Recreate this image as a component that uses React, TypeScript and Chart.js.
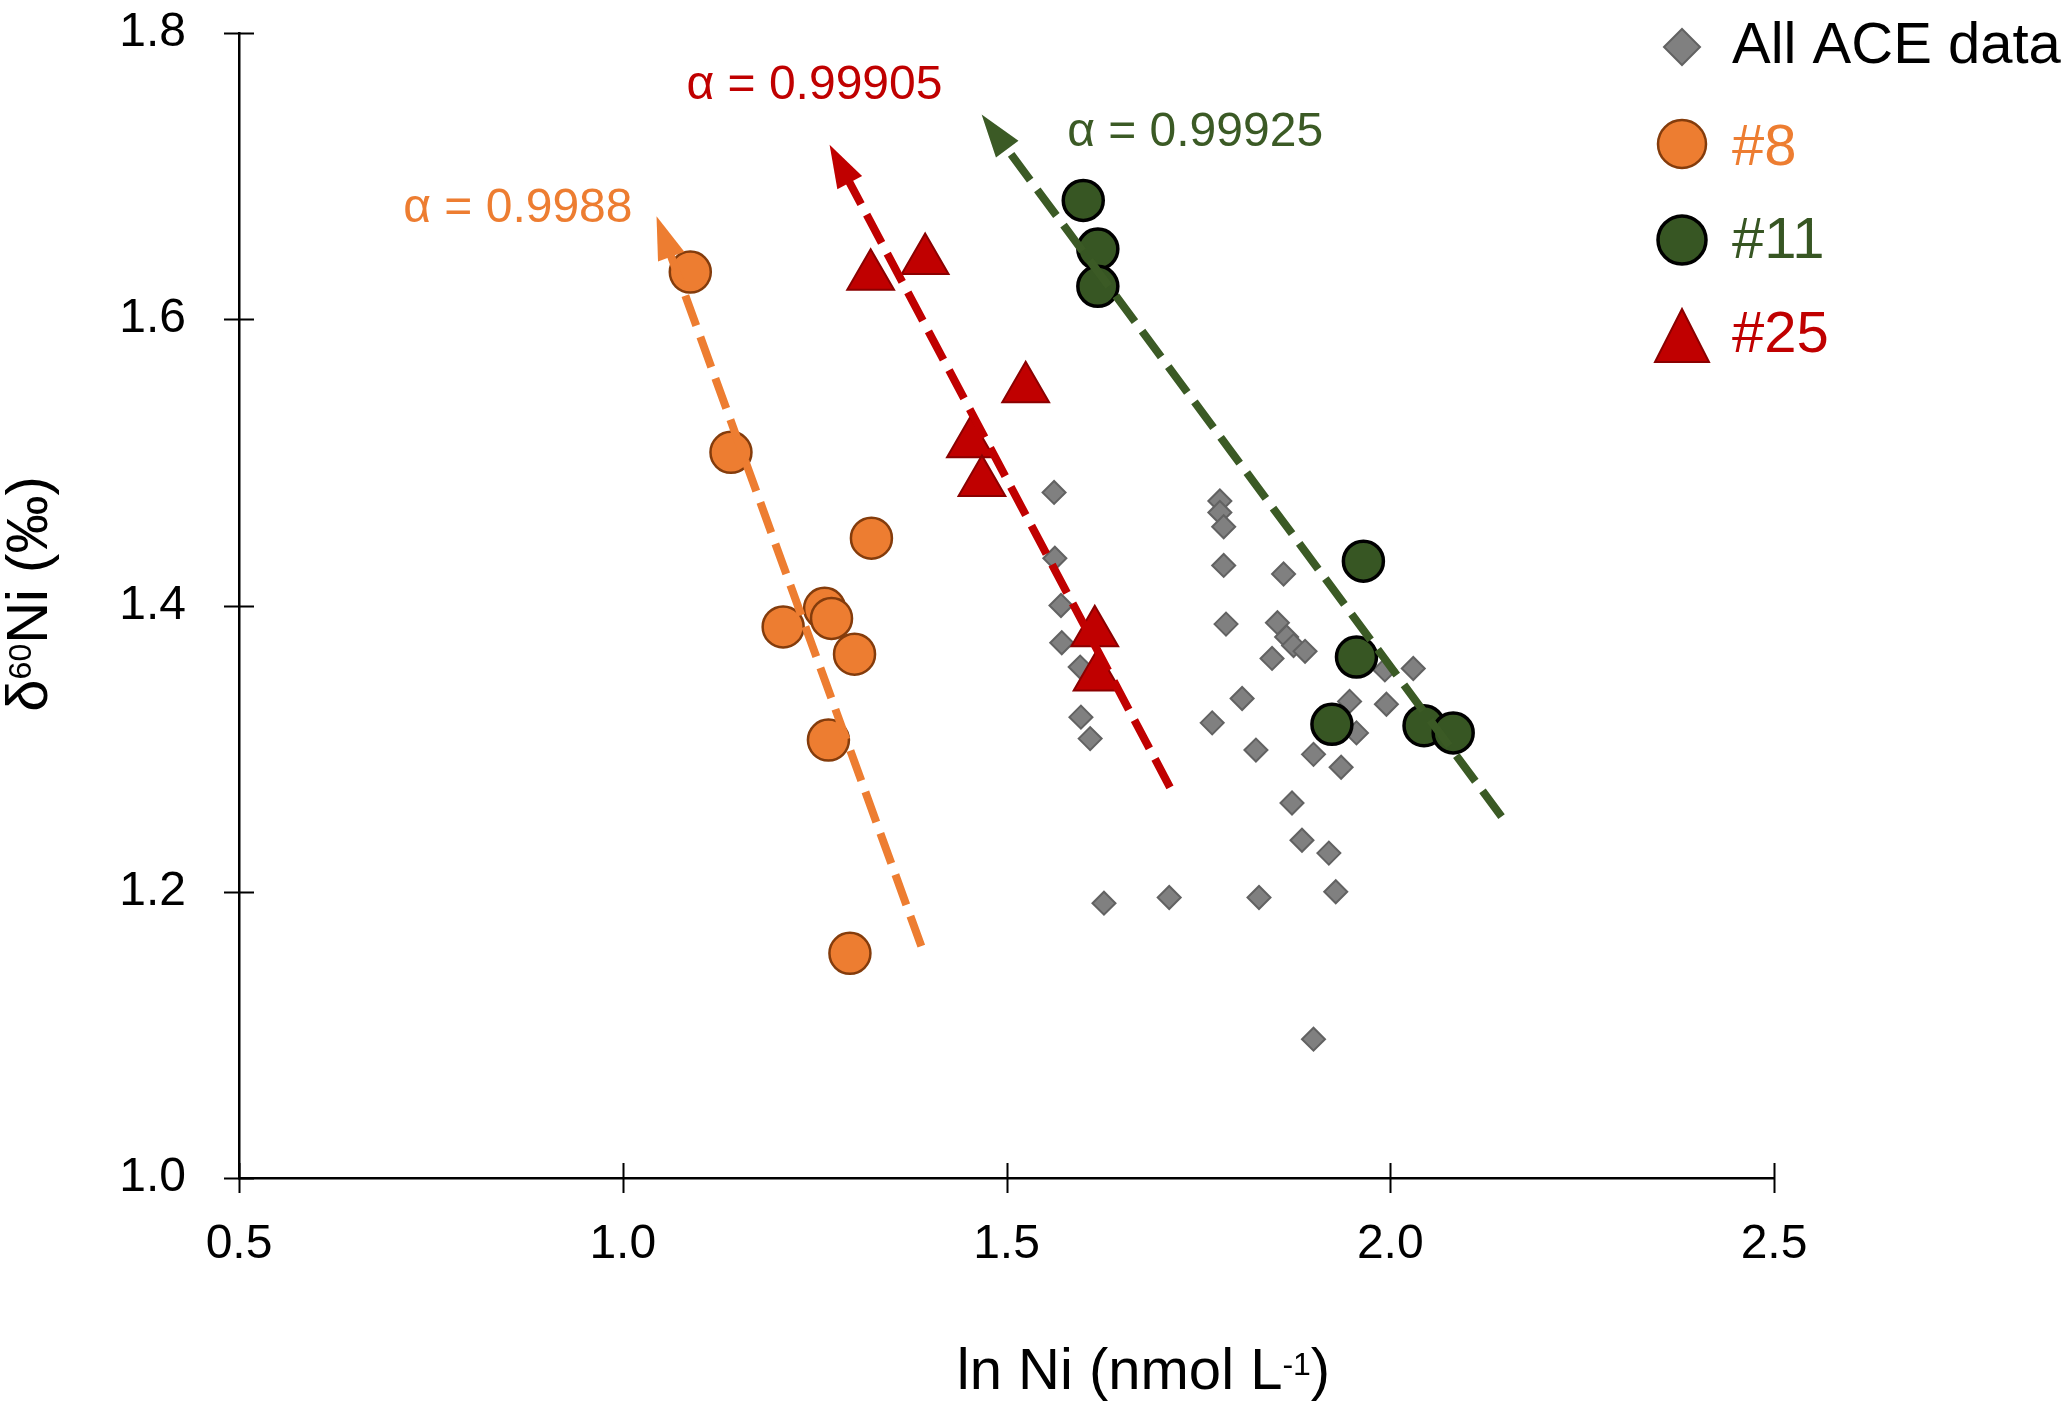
import { useEffect, useRef } from 'react';
import { Chart, registerables } from 'chart.js';

Chart.register(...registerables);

// All ACE data (grey diamonds)
const ACE_X = [1.562, 1.563, 1.571, 1.572, 1.596, 1.597, 1.609, 1.627, 1.712, 1.778, 1.778, 1.783, 1.783, 1.786, 1.861, 1.853, 1.865, 1.874, 1.889, 1.846, 1.807, 1.768, 1.825, 1.9, 1.936, 1.872, 1.885, 1.92, 1.929, 1.829, 1.9, 1.947, 1.956, 1.993, 2.03, 1.995];
const ACE_Y = [1.479, 1.433, 1.4, 1.374, 1.357, 1.322, 1.307, 1.192, 1.196, 1.473, 1.465, 1.455, 1.428, 1.387, 1.422, 1.388, 1.378, 1.372, 1.368, 1.363, 1.335, 1.318, 1.299, 1.296, 1.287, 1.262, 1.236, 1.227, 1.2, 1.196, 1.097, 1.333, 1.311, 1.355, 1.356, 1.331];

// station #8
const ST8_X = [1.088, 1.141, 1.324, 1.209, 1.263, 1.272, 1.302, 1.268, 1.296];
const ST8_Y = [1.633, 1.507, 1.447, 1.385, 1.398, 1.391, 1.366, 1.306, 1.157];

// station #11
const ST11_X = [1.6, 1.619, 1.619, 1.965, 1.956, 1.924, 2.044, 2.082];
const ST11_Y = [1.683, 1.649, 1.623, 1.431, 1.364, 1.317, 1.316, 1.311];

// station #25
const ST25_X = [1.323, 1.394, 1.525, 1.453, 1.468, 1.615, 1.618];
const ST25_Y = [1.63, 1.641, 1.5515, 1.513, 1.486, 1.381, 1.35];

const SERIES_LABELS = ['All ACE data', '#8', '#11', '#25'];

// fractionation arrows (start at lower right, tip at upper left), order: #8, #25, #11
const FIT_LABELS = ['α = 0.9988', 'α = 0.99905', 'α = 0.99925'];
const FIT_START_X = [1.389, 1.713, 2.145];
const FIT_START_Y = [1.162, 1.273, 1.2525];
const FIT_TIP_X = [1.044, 1.2695, 1.4676];
const FIT_TIP_Y = [1.672, 1.722, 1.743];
const FIT_LABEL_X = [0.714, 1.083, 1.579];
const FIT_LABEL_Y = [1.668, 1.754, 1.721];

const X_TICKS = [0.5, 1.0, 1.5, 2.0, 2.5];
const Y_TICKS = [1.0, 1.2, 1.4, 1.6, 1.8];

const W = 2067;
const H = 1403;
const FONT = '"Liberation Sans", Arial, Helvetica, sans-serif';

const ORANGE = '#ED7D31';
const GREEN = '#375623';
const RED = '#C00000';
const GREY = '#808080';
const FIT_COLORS = [ORANGE, RED, '#3B5A25'];

const HEAD_LEN = 43;
const HEAD_HALF = 14;

function pts(xs: number[], ys: number[]) {
  return xs.map((x, i) => ({ x, y: ys[i] }));
}

function arrowGeom(chart: any, i: number) {
  const { x, y } = chart.scales;
  const sx = x.getPixelForValue(FIT_START_X[i]);
  const sy = y.getPixelForValue(FIT_START_Y[i]);
  const tx = x.getPixelForValue(FIT_TIP_X[i]);
  const ty = y.getPixelForValue(FIT_TIP_Y[i]);
  const len = Math.hypot(tx - sx, ty - sy);
  return { tx, ty, ux: (tx - sx) / len, uy: (ty - sy) / len };
}

const FIRST_FIT = 4;

const arrowPlugin = {
  id: 'arrows',
  beforeDatasetDraw(chart: any, args: any) {
    const i = args.index - FIRST_FIT;
    if (i < 0) return;
    const { ctx } = chart;
    const { tx, ty, ux, uy } = arrowGeom(chart, i);
    const bx = tx - ux * (HEAD_LEN - 3);
    const by = ty - uy * (HEAD_LEN - 3);
    const nx = -uy;
    const ny = ux;
    const R = 5000;
    ctx.save();
    ctx.beginPath();
    ctx.moveTo(bx + nx * R, by + ny * R);
    ctx.lineTo(bx - nx * R, by - ny * R);
    ctx.lineTo(bx - nx * R - ux * R, by - ny * R - uy * R);
    ctx.lineTo(bx + nx * R - ux * R, by + ny * R - uy * R);
    ctx.closePath();
    ctx.clip();
  },
  afterDatasetDraw(chart: any, args: any) {
    if (args.index >= FIRST_FIT) chart.ctx.restore();
  },
  afterDatasetsDraw(chart: any) {
    const { ctx } = chart;
    FIT_LABELS.forEach((_, i) => {
      const { tx, ty, ux, uy } = arrowGeom(chart, i);
      const bx = tx - ux * HEAD_LEN;
      const by = ty - uy * HEAD_LEN;
      ctx.save();
      ctx.fillStyle = FIT_COLORS[i];
      ctx.beginPath();
      ctx.moveTo(tx, ty);
      ctx.lineTo(bx - uy * HEAD_HALF, by + ux * HEAD_HALF);
      ctx.lineTo(bx + uy * HEAD_HALF, by - ux * HEAD_HALF);
      ctx.closePath();
      ctx.fill();
      ctx.restore();
    });
  },
};

const decorPlugin = {
  id: 'decor',
  beforeDatasetsDraw(chart: any) {
    const { ctx, chartArea, scales } = chart;
    ctx.save();
    ctx.strokeStyle = '#000';
    ctx.lineWidth = 2;
    ctx.beginPath();
    X_TICKS.forEach((v) => {
      const px = Math.round(scales.x.getPixelForValue(v)) + 0.5;
      ctx.moveTo(px, chartArea.bottom - 15);
      ctx.lineTo(px, chartArea.bottom + 15);
    });
    Y_TICKS.forEach((v) => {
      const py = Math.round(scales.y.getPixelForValue(v)) + 0.5;
      ctx.moveTo(chartArea.left - 15, py);
      ctx.lineTo(chartArea.left + 15, py);
    });
    ctx.stroke();
    ctx.restore();
  },
  afterDraw(chart: any) {
    const { ctx, scales } = chart;
    const ds = chart.data.datasets;
    ctx.save();

    // alpha labels
    ctx.font = `48px ${FONT}`;
    ctx.textAlign = 'left';
    ctx.textBaseline = 'alphabetic';
    FIT_LABELS.forEach((t, i) => {
      ctx.fillStyle = FIT_COLORS[i];
      ctx.fillText(t, scales.x.getPixelForValue(FIT_LABEL_X[i]), scales.y.getPixelForValue(FIT_LABEL_Y[i]));
    });

    // legend
    const mx = 1682;
    const tx = 1732;
    const rows = [47, 144, 240, 340];
    const baselines = [63, 165, 258, 352];
    const textColors = ['#000', ORANGE, GREEN, RED];
    ctx.font = `58px ${FONT}`;
    // diamond
    ctx.beginPath();
    ctx.moveTo(mx - 18, rows[0]);
    ctx.lineTo(mx, rows[0] - 18);
    ctx.lineTo(mx + 18, rows[0]);
    ctx.lineTo(mx, rows[0] + 18);
    ctx.closePath();
    ctx.fillStyle = ds[0].backgroundColor;
    ctx.fill();
    ctx.lineWidth = 2;
    ctx.strokeStyle = ds[0].borderColor;
    ctx.stroke();
    // circles
    [1, 2].forEach((k) => {
      ctx.beginPath();
      ctx.arc(mx, rows[k], 24, 0, Math.PI * 2);
      ctx.fillStyle = ds[k].backgroundColor;
      ctx.fill();
      ctx.lineWidth = ds[k].borderWidth;
      ctx.strokeStyle = ds[k].borderColor;
      ctx.stroke();
    });
    // triangle
    ctx.beginPath();
    ctx.moveTo(mx, 309);
    ctx.lineTo(mx + 27, 362);
    ctx.lineTo(mx - 27, 362);
    ctx.closePath();
    ctx.fillStyle = ds[3].backgroundColor;
    ctx.fill();
    ctx.lineWidth = 2;
    ctx.strokeStyle = ds[3].borderColor;
    ctx.stroke();
    SERIES_LABELS.forEach((t, i) => {
      ctx.fillStyle = textColors[i];
      ctx.fillText(t, tx, baselines[i]);
    });

    // x axis title with superscript
    ctx.fillStyle = '#000';
    const big = `58px ${FONT}`;
    const small = `32px ${FONT}`;
    const partsX: [string, string, number][] = [
      ['ln Ni (nmol L', big, 0],
      ['-1', small, 14],
      [')', big, 0],
    ];
    let total = 0;
    partsX.forEach(([t, f]) => { ctx.font = f; total += ctx.measureText(t).width; });
    let cx = 1143.5 - total / 2;
    partsX.forEach(([t, f, r]) => {
      ctx.font = f;
      ctx.fillText(t, cx, 1389 - r);
      cx += ctx.measureText(t).width;
    });

    // y axis title with superscript
    const partsY: [string, string, number][] = [
      ['δ', big, 0],
      ['60', small, 16],
      ['Ni (‰)', big, 0],
    ];
    total = 0;
    partsY.forEach(([t, f]) => { ctx.font = f; total += ctx.measureText(t).width; });
    ctx.translate(47, 594);
    ctx.rotate(-Math.PI / 2);
    cx = -total / 2;
    partsY.forEach(([t, f, r]) => {
      ctx.font = f;
      ctx.fillText(t, cx, -r);
      cx += ctx.measureText(t).width;
    });
    ctx.restore();
  },
};

export default function App() {
  const canvasRef = useRef<HTMLCanvasElement>(null);

  useEffect(() => {
    if (!canvasRef.current) return;
    const tickFont = { family: FONT, size: 48 };

    const fitSets = FIT_LABELS.map((label, i) => ({
      label,
      data: [
        { x: FIT_START_X[i], y: FIT_START_Y[i] },
        { x: FIT_TIP_X[i], y: FIT_TIP_Y[i] },
      ],
      showLine: true,
      borderColor: FIT_COLORS[i],
      borderWidth: 8,
      borderDash: [32, 12],
      borderCapStyle: 'butt',
      pointRadius: 0,
      clip: false,
      order: 0,
    }));

    const chart = new Chart(canvasRef.current, {
      type: 'scatter',
      data: {
        datasets: [
          {
            label: SERIES_LABELS[0],
            data: pts(ACE_X, ACE_Y),
            pointStyle: 'rectRot',
            pointRadius: 11.5,
            backgroundColor: GREY,
            borderColor: '#626262',
            borderWidth: 2,
            clip: false,
            order: 10,
          },
          {
            label: SERIES_LABELS[1],
            data: pts(ST8_X, ST8_Y),
            pointStyle: 'circle',
            pointRadius: 20.5,
            backgroundColor: ORANGE,
            borderColor: '#843C0C',
            borderWidth: 2.5,
            clip: false,
            order: 5,
          },
          {
            label: SERIES_LABELS[2],
            data: pts(ST11_X, ST11_Y),
            pointStyle: 'circle',
            pointRadius: 20,
            backgroundColor: GREEN,
            borderColor: '#000000',
            borderWidth: 3.5,
            clip: false,
            order: 5,
          },
          {
            label: SERIES_LABELS[3],
            data: pts(ST25_X, ST25_Y),
            pointStyle: 'triangle',
            pointRadius: 27,
            backgroundColor: RED,
            borderColor: '#8B0000',
            borderWidth: 2,
            clip: false,
            order: 5,
          },
          ...fitSets,
        ] as any,
      },
      options: {
        animation: false,
        responsive: false,
        devicePixelRatio: 1,
        events: [],
        layout: { padding: { top: 33, right: W - 1774, left: 0, bottom: 0 } },
        plugins: {
          legend: { display: false },
          tooltip: { enabled: false },
        },
        scales: {
          x: {
            type: 'linear',
            min: 0.5,
            max: 2.5,
            afterBuildTicks: (s: any) => { s.ticks = X_TICKS.map((value) => ({ value })); },
            afterFit: (s: any) => {
              s.height = H - 1178;
              s.paddingLeft = 0;
              s.paddingRight = 0;
            },
            grid: { display: false },
            border: { display: true, color: '#000', width: 2.5 },
            ticks: {
              font: tickFont,
              color: '#000',
              padding: 30,
              maxRotation: 0,
              autoSkip: false,
              callback: (v: any) => Number(v).toFixed(1),
            },
          },
          y: {
            type: 'linear',
            min: 1.0,
            max: 1.8,
            afterBuildTicks: (s: any) => { s.ticks = Y_TICKS.map((value) => ({ value })); },
            afterFit: (s: any) => {
              s.width = 239;
              s.paddingTop = 0;
              s.paddingBottom = 0;
            },
            grid: { display: false },
            border: { display: true, color: '#000', width: 2.5 },
            ticks: {
              font: tickFont,
              color: '#000',
              padding: 45,
              autoSkip: false,
              callback: (v: any) => Number(v).toFixed(1),
            },
          },
        },
      } as any,
      plugins: [decorPlugin, arrowPlugin],
    });

    return () => chart.destroy();
  }, []);

  return (
    <div style={{ position: 'fixed', left: 0, top: 0, width: W, height: H, background: '#fff' }}>
      <canvas ref={canvasRef} width={W} height={H} style={{ display: 'block' }} />
    </div>
  );
}
